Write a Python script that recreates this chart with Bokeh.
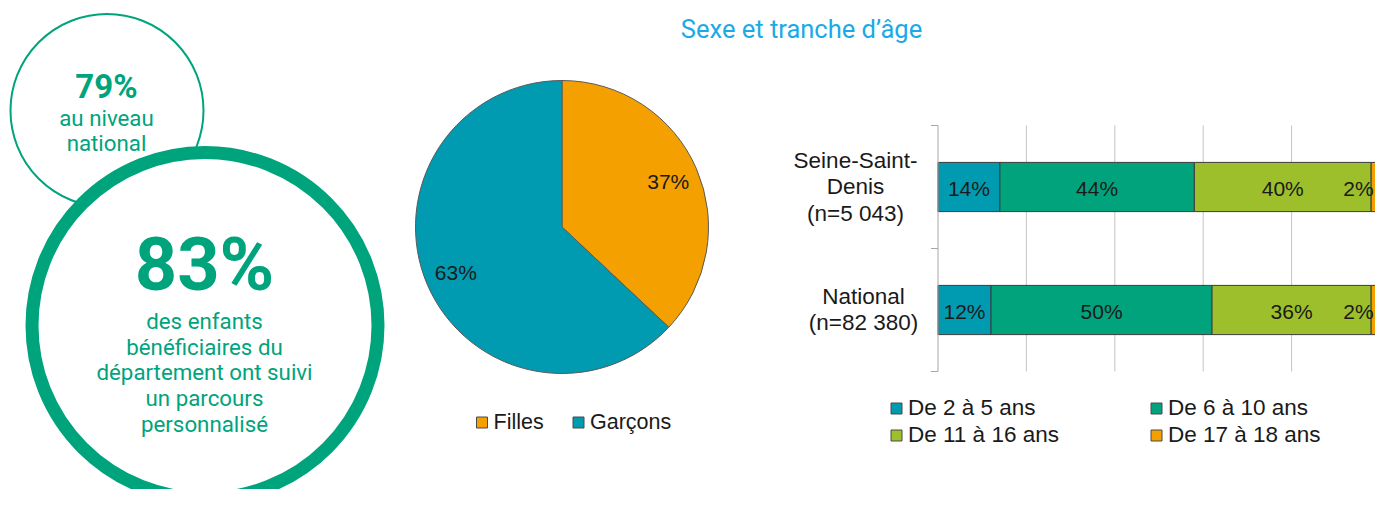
import numpy as np
from bokeh.plotting import figure
from bokeh.models import Range1d
from bokeh.core.properties import value
from bokeh.embed import file_html
from bokeh.resources import INLINE

# ------------------------------------------------------------------ data
title_text = "Sexe et tranche d’âge"

national_share = 79
national_lines = ["au niveau", "national"]
dept_share = 83
dept_lines = ["des enfants", "bénéficiaires du", "département ont suivi",
              "un parcours", "personnalisé"]

sex_labels = ["Filles", "Garçons"]
sex_values = [37, 63]

regions = ["Seine-Saint-Denis", "National"]
region_label_lines = [["Seine-Saint-", "Denis", "(n=5 043)"],
                      ["National", "(n=82 380)"]]
age_groups = ["De 2 à 5 ans", "De 6 à 10 ans", "De 11 à 16 ans", "De 17 à 18 ans"]
age_ssd = [14, 44, 40, 2]
age_national = [12, 50, 36, 2]

# ------------------------------------------------------------------ styles / layout
GREEN = "#00A47C"
TITLE_BLUE = "#1AAAE6"
SEX_COLORS = ["#F4A000", "#009BB1"]
AGE_COLORS = ["#009BB1", "#00A37C", "#9CBF2B", "#F4A000"]
TXT = "#1a1a1a"
SANS = value("Roboto")
CHART = value("Liberation Sans")

W, H = 1375, 489

p = figure(width=W, height=H, title=None,
           x_range=Range1d(0, W), y_range=Range1d(H, 0),
           toolbar_location=None, output_backend="svg", min_border=0,
           x_axis_location=None, y_axis_location=None,
           outline_line_color=None, background_fill_color="white",
           border_fill_color="white")
p.grid.visible = False

# bar chart scales: percent -> x, category index -> y
AX, S = 937.5, 4.42          # x of 0 %, pixels per %
C0, CS = 186.5, 123.0        # y of first category, pixels per category
PCT_END = (W - AX) / S
p.extra_x_ranges = {"pct": Range1d(-AX / S, PCT_END)}
p.extra_y_ranges = {"cat": Range1d((H - C0) / CS, -C0 / CS),
                    "pie": Range1d(-H, 0)}

MID = dict(text_baseline="middle")

# ------------------------------------------------------------------ circles
p.circle(x=[106.5], y=[110], radius=96.5, fill_color=None,
         line_color=GREEN, line_width=2)
p.circle(x=[204.5], y=[325], radius=173, fill_color="white",
         line_color=GREEN, line_width=13)

p.text(x=[106], y=[85.5], text=[f"{national_share}%"], text_font=SANS,
       text_font_style="bold", text_font_size="33px", text_color=GREEN,
       text_align="center", **MID)
p.text(x=[106] * len(national_lines), y=[117 + 25.7 * k for k in range(len(national_lines))],
       text=national_lines, text_font=SANS, text_font_size="22.3px", text_color=GREEN,
       text_align="center", **MID)

p.text(x=[204], y=[264], text=[f"{dept_share}%"], text_font=SANS,
       text_font_style="bold", text_font_size="74px", text_color=GREEN,
       text_align="center", **MID)
p.text(x=[204] * len(dept_lines), y=[320.5 + 25.7 * k for k in range(len(dept_lines))],
       text=dept_lines, text_font=SANS, text_font_size="22.3px", text_color=GREEN,
       text_align="center", **MID)

# ------------------------------------------------------------------ title
p.text(x=[801], y=[28], text=[title_text], text_font=SANS, text_font_size="25.5px",
       text_color=TITLE_BLUE, text_align="center", **MID)

# ------------------------------------------------------------------ pie
PCX, PCY, PR = 561.5, -226.5, 146.5
vals = np.array(sex_values, dtype=float)
frac = vals / vals.sum()
cum = np.concatenate([[0], np.cumsum(frac)])
starts = np.pi / 2 - 2 * np.pi * cum[:-1]
ends = np.pi / 2 - 2 * np.pi * cum[1:]
p.wedge(x=PCX, y=PCY, radius=PR, start_angle=starts, end_angle=ends,
        direction="clock", fill_color=SEX_COLORS, line_color="#5a5a5a",
        line_width=1, y_range_name="pie")
mids = (starts + ends) / 2
p.text(x=PCX + 0.79 * PR * np.cos(mids), y=PCY + 0.79 * PR * np.sin(mids),
       text=[f"{v}%" for v in sex_values], y_range_name="pie",
       text_font=CHART, text_font_size="21px", text_color=TXT,
       text_align="center", **MID)

pie_leg_x = [481.5, 578]
p.scatter(x=pie_leg_x, y=[422] * 2, marker="square", size=11,
          fill_color=SEX_COLORS, line_color="#4a4a4a", line_width=1)
p.text(x=[x + 11.5 for x in pie_leg_x], y=[421] * 2, text=sex_labels,
       text_font=CHART, text_font_size="21.5px", text_color=TXT,
       text_align="left", **MID)

# ------------------------------------------------------------------ stacked bars
ys = list(range(len(regions)))
grid_x = [20, 40, 60, 80, 100]
p.segment(x0=grid_x, y0=[-0.5] * 5, x1=grid_x, y1=[1.5] * 5,
          line_color="#C4C4C4", line_width=1,
          x_range_name="pct", y_range_name="cat")

table = np.array([age_ssd, age_national], dtype=float)  # rows = regions
lefts = np.concatenate([np.zeros((len(regions), 1)), np.cumsum(table, axis=1)[:, :-1]], axis=1)
rights = lefts + table
label_limit = PCT_END - 17 / S      # keep value labels inside the visible frame
for j, grp in enumerate(age_groups):
    p.hbar(y=ys, left=lefts[:, j], right=rights[:, j], height=0.4,
           fill_color=AGE_COLORS[j], line_color="#3c3c3c", line_width=1,
           x_range_name="pct", y_range_name="cat")
    centers = np.minimum((lefts[:, j] + rights[:, j]) / 2, label_limit)
    p.text(x=centers, y=ys,
           text=[f"{int(v)}%" for v in table[:, j]],
           x_range_name="pct", y_range_name="cat",
           text_font=CHART, text_font_size="21px", text_color=TXT,
           text_align="center", y_offset=1.5, **MID)

# category axis line + ticks
tick_len = 7 / S
p.segment(x0=[0], y0=[-0.5], x1=[0], y1=[1.5], line_color="#A6A6A6",
          line_width=1, x_range_name="pct", y_range_name="cat")
tick_y = [-0.5, 0.5, 1.5]
p.segment(x0=[-tick_len] * 3, y0=tick_y, x1=[0] * 3, y1=tick_y,
          line_color="#A6A6A6", line_width=1, x_range_name="pct", y_range_name="cat")

# category labels (multi-line, centred blocks left of axis)
label_cx = [855, 863]
for i, lines in enumerate(region_label_lines):
    n = len(lines)
    p.text(x=[(label_cx[i] - AX) / S] * n, y=[i] * n, text=lines,
           y_offset=[-0.5 + (k - (n - 1) / 2) * 26.5 for k in range(n)],
           x_range_name="pct", y_range_name="cat",
           text_font=CHART, text_font_size="22.5px", text_color=TXT,
           text_align="center", **MID)

# legend of age groups (2 columns)
leg_cols = [896, 1156]
leg_rows = [408, 435]
lx = [leg_cols[j % 2] for j in range(len(age_groups))]
ly = [leg_rows[j // 2] for j in range(len(age_groups))]
p.scatter(x=lx, y=ly, marker="square", size=11, fill_color=AGE_COLORS,
          line_color="#4a4a4a", line_width=1)
p.text(x=[x + 11.5 for x in lx], y=[y - 1 for y in ly], text=age_groups,
       text_font=CHART, text_font_size="22.5px", text_color=TXT,
       text_align="left", **MID)

open("out.html", "w").write(file_html(p, INLINE))
